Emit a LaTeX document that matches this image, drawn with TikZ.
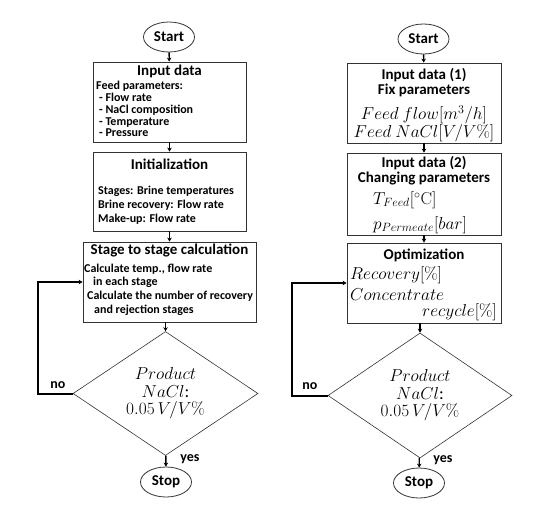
\documentclass[tikz,border=0pt]{standalone}
\usepackage[no-math]{fontspec}
\setmainfont{Carlito}
\usetikzlibrary{arrows.meta, shapes.geometric}

\tikzset{
  box/.style={draw=black!80, line width=0.8pt, minimum width=153pt, minimum height=80pt, inner sep=0pt},
  term/.style={ellipse, draw=black!80, line width=0.8pt, minimum width=51pt, minimum height=30pt, inner sep=0pt, font=\fontsize{15}{16}\selectfont\bfseries},
  test/.style={diamond, draw=black!80, line width=0.6pt, inner sep=0pt, aspect=1.5, minimum width=185pt, minimum height=124pt, align=center, font=\fontsize{17.5}{17.5}\selectfont},
  title/.style={font=\fontsize{15}{15}\selectfont\bfseries, inner sep=0pt, align=center},
  body/.style={font=\fontsize{12}{12}\selectfont\bfseries, inner sep=0pt, align=left, anchor=west},
  mathline/.style={font=\fontsize{17.5}{17.5}\selectfont, inner sep=0pt},
  answer/.style={font=\fontsize{14}{14}\selectfont\bfseries, inner sep=0pt},
  flow/.style={-{Stealth[length=4pt,width=4.5pt]}, line width=1.3pt},
  back/.style={-{Stealth[length=4pt,width=4.5pt]}, line width=2pt},
}

\begin{document}
\begin{tikzpicture}[x=1pt, y=-1pt]
    \useasboundingbox (0,0) rectangle (550,523);

    % Left chart
    \node[term] (startL) at (169,37) {Start};
    \node[box] (inL) at (169.5,102) {};
    \node[title] (inLt) at (169.5,71) {Input data};
    \node[body, anchor=north west, font=\fontsize{12}{11.8}\selectfont\bfseries] (inLb) at (96,81) {Feed parameters:\\
      \hspace{3pt}- Flow rate\\ \hspace{3pt}- NaCl composition\\ \hspace{3pt}- Temperature\\ \hspace{3pt}- Pressure};

    \node[box, minimum height=79pt] (iniL) at (169.5,191.5) {};
    \node[title] (iniLt) at (169.5,164) {Initialization};
    \node[body] (iniL1) at (98,191) {Stages: Brine temperatures};
    \node[body] (iniL2) at (98,205) {Brine recovery: Flow rate};
    \node[body] (iniL3) at (98,219) {Make-up: Flow rate};

    \node[box, minimum width=173pt] (stL) at (169.5,282) {};
    \node[title] (stLt) at (169.5,250) {Stage to stage calculation};
    \node[body] (stL1) at (84,269) {Calculate temp., flow rate};
    \node[body] (stL2) at (93,282) {in each stage};
    \node[body] (stL3) at (87,296) {Calculate the number of recovery};
    \node[body] (stL4) at (94,310) {and rejection stages};

    \node[test] (dL) at (165.5,393.5) {$Product$\\ $NaCl$:\\ $0.05\,V/V\%$};
    \node[term] (stopL) at (166,482) {Stop};
    \node[answer] (noL) at (58,385) {no};
    \node[answer] (yesL) at (190,459) {yes};

    \draw[flow] (startL) -- (inL);
    \draw[flow] (inL) -- (iniL);
    \draw[flow] (iniL) -- (stL);
    \draw[flow] (stL.south -| dL.north) -- (dL.north);
    \draw[flow] (dL) -- (stopL);
    \draw[back] (dL.west) -- ++(-35,0) |- (stL.west);

    % Right chart
    \node[term] (startR) at (423.5,39) {Start};
    \node[box, minimum width=154pt] (in1R) at (424,103) {};
    \node[title] (in1Rt) at (424,82.5) {Input data (1)\\ Fix parameters};
    \node[mathline] (in1R1) at (424,115) {$Feed\ flow[m^3/h]$};
    \node[mathline] (in1R2) at (424,133) {$Feed\ NaCl[V/V\%]$};

    \node[box, minimum width=154pt, minimum height=82pt] (in2R) at (424,194) {};
    \node[title] (in2Rt) at (424,170.5) {Input data (2)\\ Changing parameters};
    \node[mathline, anchor=west] (in2R1) at (373,200) {$T_{Feed}[^\circ\mathrm{C}]$};
    \node[mathline, anchor=west] (in2R2) at (373,225) {$p_{Permeate}[bar]$};

    \node[box, minimum width=154pt] (opR) at (424,283) {};
    \node[title] (opRt) at (424,255) {Optimization};
    \node[mathline, anchor=west] (opR1) at (350,275) {$Recovery[\%]$};
    \node[mathline, anchor=west] (opR2) at (350,295) {$Concentrate$};
    \node[mathline, anchor=east] (opR3) at (497,312) {$recycle[\%]$};

    \node[test, minimum height=125pt, minimum width=184pt] (dR) at (420,395.5) {$Product$\\ $NaCl$:\\ $0.05\,V/V\%$};
    \node[term] (stopR) at (419,483) {Stop};
    \node[answer] (noR) at (310,386) {no};
    \node[answer] (yesR) at (443,460) {yes};

    \draw[flow] (startR) -- (in1R);
    \draw[flow] (in1R) -- (in2R);
    \draw[flow] (in2R) -- (opR);
    \draw[flow] (opR.south -| dR.north) -- (dR.north);
    \draw[flow] (dR) -- (stopR);
    \draw[back] (dR.west) -- ++(-36,0) |- (opR.west);
\end{tikzpicture}
\end{document}
